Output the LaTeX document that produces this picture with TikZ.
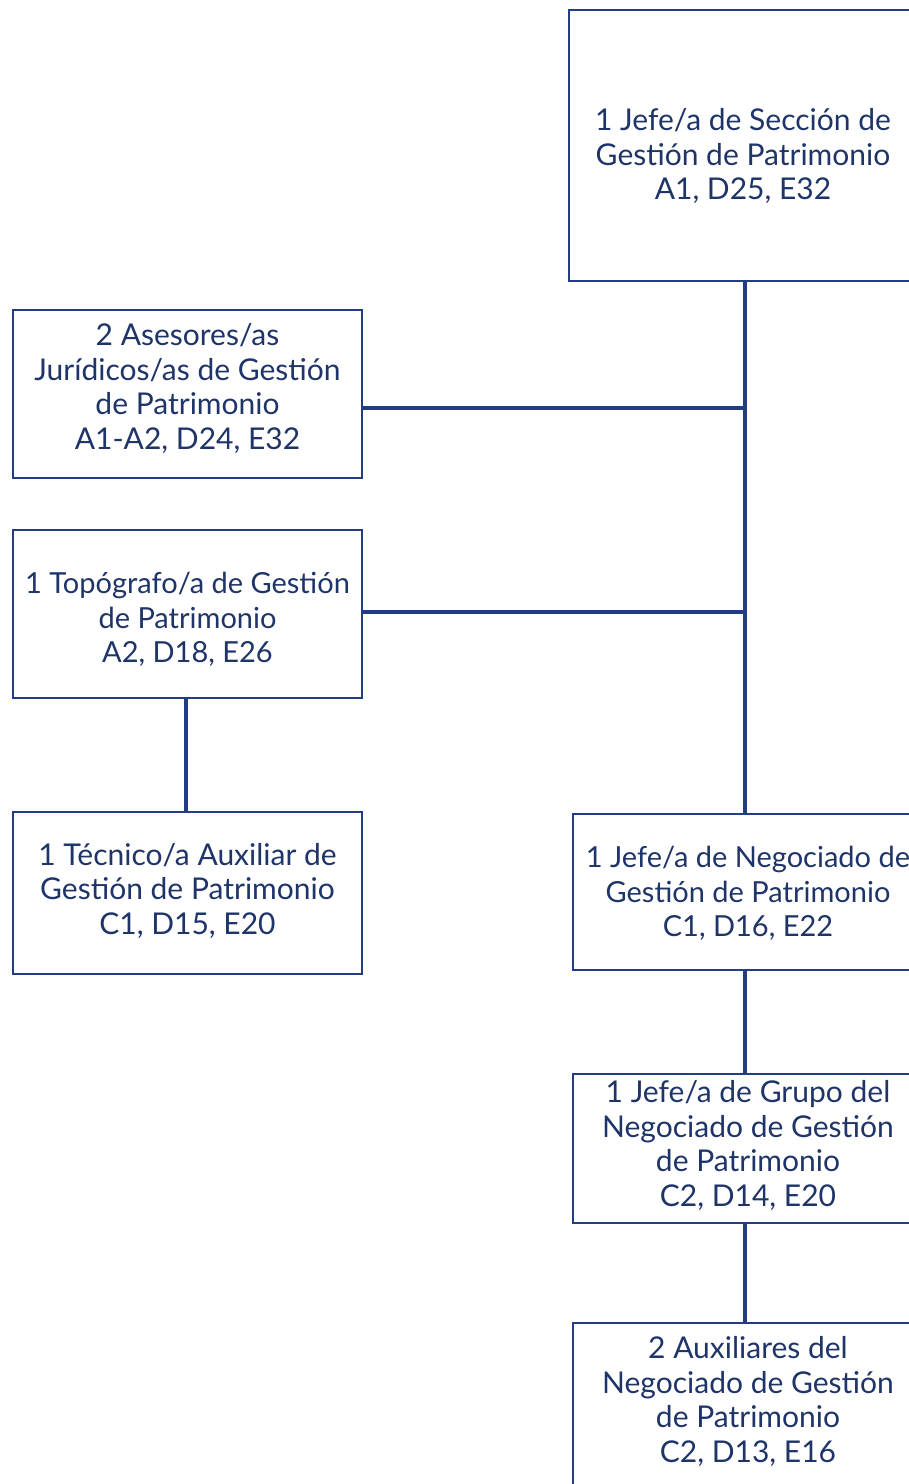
\documentclass[tikz,border=0pt]{standalone}
\usepackage{fontspec}
\setmainfont{Lato}
\definecolor{navy}{HTML}{1F3468}
\definecolor{linec}{HTML}{233C86}
\begin{document}
\begin{tikzpicture}[x=1pt,y=-1pt,
  box/.style={draw=linec,line width=2pt,fill=white,inner sep=0pt,anchor=north west},
  txt/.style={text=navy,align=center,font=\fontsize{30}{34.5}\selectfont,inner sep=0pt},
  conn/.style={draw=linec,line width=4pt}]
\useasboundingbox (0,0) rectangle (909,1484);
\begin{scope}
\clip (0,0) rectangle (909,1484);
\coordinate (t1) at (745,408);
\coordinate (t2) at (745,612);
\coordinate (c1) at (186,700);
\node[box,minimum width=348pt,minimum height=271pt] (jefe) at (568,9) {};
\node[box,minimum width=349pt,minimum height=168pt] (ases) at (12,309) {};
\node[box,minimum width=349pt,minimum height=168pt] (topo) at (12,529) {};
\node[box,minimum width=349pt,minimum height=162pt] (tec) at (12,811) {};
\node[box,minimum width=350pt,minimum height=156pt] (neg) at (572,813) {};
\node[box,minimum width=350pt,minimum height=149pt] (grp) at (572,1073) {};
\node[box,minimum width=350pt,minimum height=190pt] (aux) at (572,1322) {};
\node[txt] (jefeT) at ([yshift=-10.5pt]jefe.center) {1 Jefe/a de Sección de\\Gestión de Patrimonio\\A1, D25, E32};
\node[txt] (asesT) at ([yshift=5.5pt]ases.center) {2 Asesores/as\\Jurídicos/as de Gestión\\de Patrimonio\\A1-A2, D24, E32};
\node[txt,font=\fontsize{29}{34.5}\selectfont] (topoT) at ([yshift=-5.5pt]topo.center) {1 Topógrafo/a de Gestión\\de Patrimonio\\A2, D18, E26};
\node[txt] (tecT) at ([yshift=2.5pt]tec.center) {1 Técnico/a Auxiliar de\\Gestión de Patrimonio\\C1, D15, E20};
\node[txt,font=\fontsize{29}{34.5}\selectfont] (negT) at ([yshift=-1.5pt]neg.center) {1 Jefe/a de Negociado de\\Gestión de Patrimonio\\C1, D16, E22};
\node[txt] (grpT) at ([yshift=3pt]grp.center) {1 Jefe/a de Grupo del\\Negociado de Gestión\\de Patrimonio\\C2, D14, E20};
\node[txt] (auxT) at (aux.center |- 0,1401.5) {2 Auxiliares del\\Negociado de Gestión\\de Patrimonio\\C2, D13, E16};
\draw[conn] (jefe.south -| t1) -- (neg.north -| t1);
\draw[conn] (ases.east |- t1) -- (t1);
\draw[conn] (topo.east |- t2) -- (t2);
\draw[conn] (topo.south -| c1) -- (tec.north -| c1);
\draw[conn] (neg.south -| t1) -- (grp.north -| t1);
\draw[conn] (grp.south -| t1) -- (aux.north -| t1);
\end{scope}
\end{tikzpicture}
\end{document}
